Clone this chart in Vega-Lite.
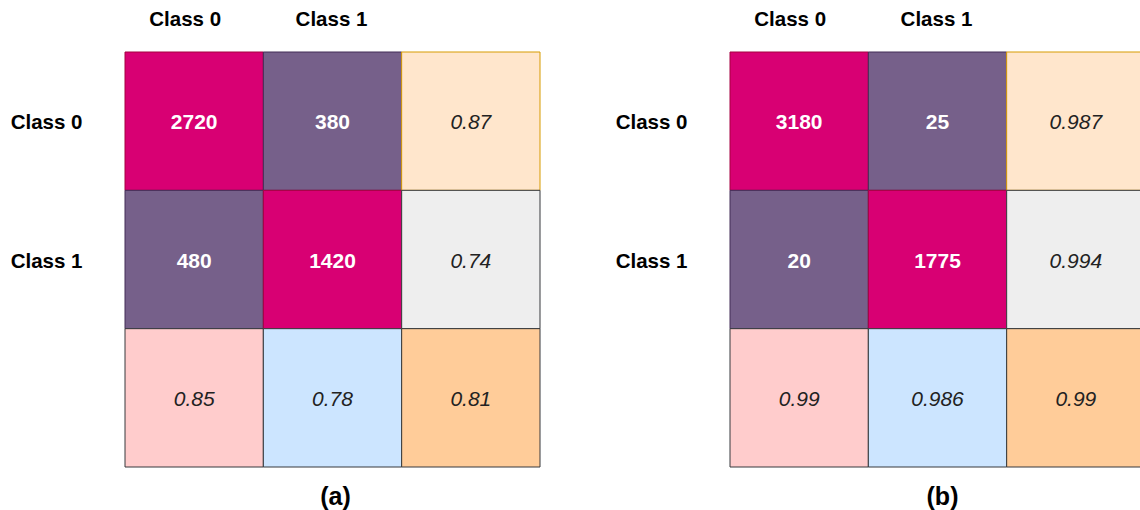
{
  "$schema": "https://vega.github.io/schema/vega-lite/v6.json",
  "background": "white",
  "padding": 5,
  "spacing": 69,
  "config": {
    "view": {"stroke": null},
    "font": "Liberation Sans",
    "axis": {
      "domain": false,
      "ticks": false,
      "tickSize": 0,
      "grid": false,
      "title": null,
      "labelFont": "Liberation Sans",
      "labelFontSize": 20.5,
      "labelFontWeight": "bold",
      "labelColor": "#000000",
      "labelExpr": "datum.value === 'Score' ? '' : datum.label"
    }
  },
  "datasets": {
    "modelA": [
      {"actual": "Class 0", "predicted": "Class 0", "value": 2720, "kind": "count", "role": "correct"},
      {"actual": "Class 0", "predicted": "Class 1", "value": 380, "kind": "count", "role": "wrong"},
      {"actual": "Class 0", "predicted": "Score", "value": 0.87, "kind": "score", "role": "class0_score"},
      {"actual": "Class 1", "predicted": "Class 0", "value": 480, "kind": "count", "role": "wrong"},
      {"actual": "Class 1", "predicted": "Class 1", "value": 1420, "kind": "count", "role": "correct"},
      {"actual": "Class 1", "predicted": "Score", "value": 0.74, "kind": "score", "role": "class1_score"},
      {"actual": "Score", "predicted": "Class 0", "value": 0.85, "kind": "score", "role": "pred0_score"},
      {"actual": "Score", "predicted": "Class 1", "value": 0.78, "kind": "score", "role": "pred1_score"},
      {"actual": "Score", "predicted": "Score", "value": 0.81, "kind": "score", "role": "overall"}
    ],
    "modelB": [
      {"actual": "Class 0", "predicted": "Class 0", "value": 3180, "kind": "count", "role": "correct"},
      {"actual": "Class 0", "predicted": "Class 1", "value": 25, "kind": "count", "role": "wrong"},
      {"actual": "Class 0", "predicted": "Score", "value": 0.987, "kind": "score", "role": "class0_score"},
      {"actual": "Class 1", "predicted": "Class 0", "value": 20, "kind": "count", "role": "wrong"},
      {"actual": "Class 1", "predicted": "Class 1", "value": 1775, "kind": "count", "role": "correct"},
      {"actual": "Class 1", "predicted": "Score", "value": 0.994, "kind": "score", "role": "class1_score"},
      {"actual": "Score", "predicted": "Class 0", "value": 0.99, "kind": "score", "role": "pred0_score"},
      {"actual": "Score", "predicted": "Class 1", "value": 0.986, "kind": "score", "role": "pred1_score"},
      {"actual": "Score", "predicted": "Score", "value": 0.99, "kind": "score", "role": "overall"}
    ]
  },
  "hconcat": [
    {
      "data": {"name": "modelA"},
      "width": 415,
      "height": 415,
      "title": {"text": "(a)", "orient": "bottom", "offset": 17, "dx": 3, "fontSize": 25, "fontWeight": "bold", "font": "Liberation Sans", "color": "#000000"},
      "encoding": {
        "x": {
          "field": "predicted", "type": "nominal", "sort": ["Class 0", "Class 1", "Score"],
          "scale": {"paddingInner": 0, "paddingOuter": 0},
          "axis": {"orient": "top", "labelAngle": 0, "labelBaseline": "middle", "labelPadding": 33, "minExtent": 47, "maxExtent": 47,
                   "labelOffset": {"condition": {"test": "datum.value === 'Class 0'", "value": -9}, "value": -1}}
        },
        "y": {
          "field": "actual", "type": "nominal", "sort": ["Class 0", "Class 1", "Score"],
          "scale": {"paddingInner": 0, "paddingOuter": 0},
          "axis": {"orient": "left", "labelAlign": "right", "labelBaseline": "middle", "labelPadding": 43, "labelOffset": 2, "minExtent": 120, "maxExtent": 120}
        }
      },
      "layer": [
        {
          "mark": {"type": "rect", "strokeWidth": 1},
          "encoding": {
            "fill": {"field": "role", "type": "nominal", "legend": null,
              "scale": {"domain": ["correct", "wrong", "class0_score", "class1_score", "pred0_score", "pred1_score", "overall"],
                        "range": ["#d80073", "#76608a", "#ffe6cc", "#eeeeee", "#ffcccc", "#cce5ff", "#ffcc99"]}},
            "stroke": {"field": "role", "type": "nominal", "legend": null,
              "scale": {"domain": ["correct", "wrong", "class0_score", "class1_score", "pred0_score", "pred1_score", "overall"],
                        "range": ["#a50040", "#432d57", "#d79b00", "#36393d", "#36393d", "#36393d", "#36393d"]}}
          }
        },
        {
          "transform": [{"filter": "datum.kind === 'count'"}],
          "mark": {"type": "text", "font": "Liberation Sans", "fontSize": 21, "fontWeight": "bold", "color": "#ffffff", "baseline": "middle", "dy": 2},
          "encoding": {"text": {"field": "value", "type": "quantitative", "format": "~f"}}
        },
        {
          "transform": [{"filter": "datum.kind === 'score'"}],
          "mark": {"type": "text", "font": "Liberation Sans", "fontSize": 21, "fontStyle": "italic", "color": "#222222", "baseline": "middle", "dy": 2},
          "encoding": {"text": {"field": "value", "type": "quantitative", "format": "~f"}}
        }
      ]
    },
    {
      "data": {"name": "modelB"},
      "width": 415,
      "height": 415,
      "title": {"text": "(b)", "orient": "bottom", "offset": 17, "dx": 5, "fontSize": 25, "fontWeight": "bold", "font": "Liberation Sans", "color": "#000000"},
      "encoding": {
        "x": {
          "field": "predicted", "type": "nominal", "sort": ["Class 0", "Class 1", "Score"],
          "scale": {"paddingInner": 0, "paddingOuter": 0},
          "axis": {"orient": "top", "labelAngle": 0, "labelBaseline": "middle", "labelPadding": 33, "minExtent": 47, "maxExtent": 47,
                   "labelOffset": {"condition": {"test": "datum.value === 'Class 0'", "value": -9}, "value": -1}}
        },
        "y": {
          "field": "actual", "type": "nominal", "sort": ["Class 0", "Class 1", "Score"],
          "scale": {"paddingInner": 0, "paddingOuter": 0},
          "axis": {"orient": "left", "labelAlign": "right", "labelBaseline": "middle", "labelPadding": 43, "labelOffset": 2, "minExtent": 120, "maxExtent": 120}
        }
      },
      "layer": [
        {
          "mark": {"type": "rect", "strokeWidth": 1},
          "encoding": {
            "fill": {"field": "role", "type": "nominal", "legend": null,
              "scale": {"domain": ["correct", "wrong", "class0_score", "class1_score", "pred0_score", "pred1_score", "overall"],
                        "range": ["#d80073", "#76608a", "#ffe6cc", "#eeeeee", "#ffcccc", "#cce5ff", "#ffcc99"]}},
            "stroke": {"field": "role", "type": "nominal", "legend": null,
              "scale": {"domain": ["correct", "wrong", "class0_score", "class1_score", "pred0_score", "pred1_score", "overall"],
                        "range": ["#a50040", "#432d57", "#d79b00", "#36393d", "#36393d", "#36393d", "#36393d"]}}
          }
        },
        {
          "transform": [{"filter": "datum.kind === 'count'"}],
          "mark": {"type": "text", "font": "Liberation Sans", "fontSize": 21, "fontWeight": "bold", "color": "#ffffff", "baseline": "middle", "dy": 2},
          "encoding": {"text": {"field": "value", "type": "quantitative", "format": "~f"}}
        },
        {
          "transform": [{"filter": "datum.kind === 'score'"}],
          "mark": {"type": "text", "font": "Liberation Sans", "fontSize": 21, "fontStyle": "italic", "color": "#222222", "baseline": "middle", "dy": 2},
          "encoding": {"text": {"field": "value", "type": "quantitative", "format": "~f"}}
        }
      ]
    }
  ]
}
